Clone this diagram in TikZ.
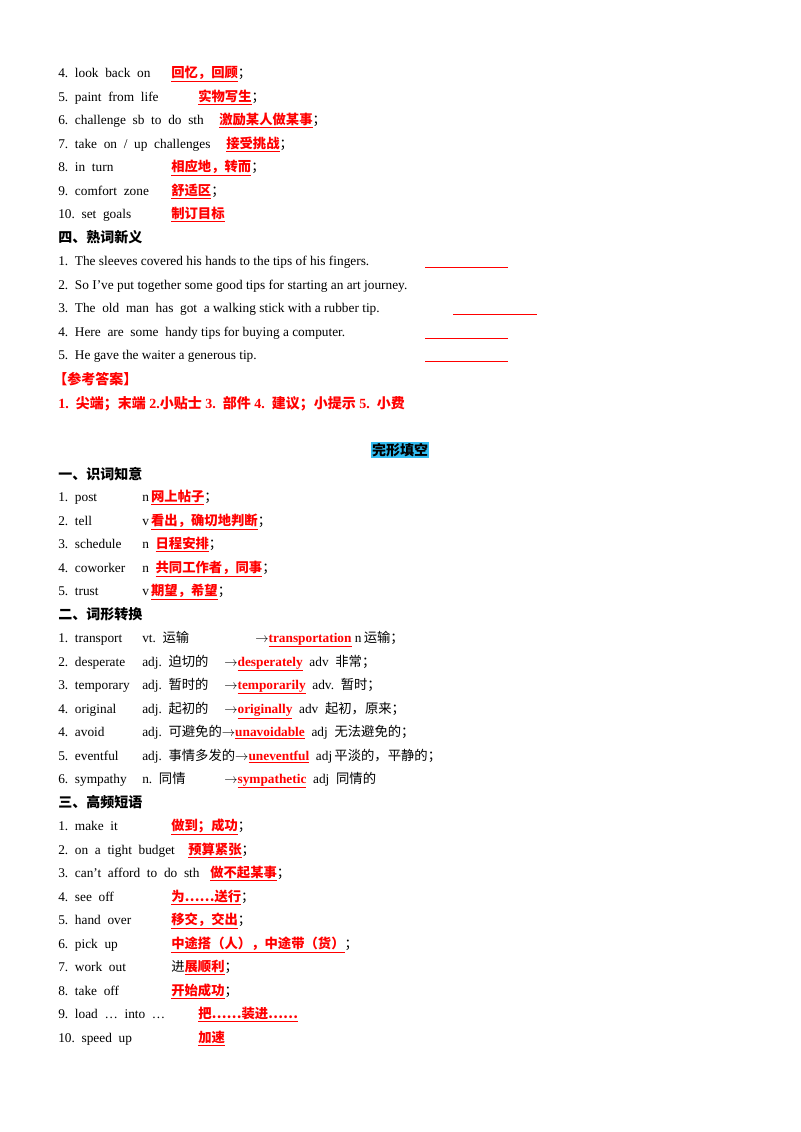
\documentclass[tikz,border=0pt]{standalone}
\usepackage{fontspec}
\setmainfont{Liberation Serif}
\newfontfamily\cjk{Noto Sans CJK SC}
\newcommand{\C}[1]{{\cjk #1}}
\newcommand{\A}[1]{\textcolor{red}{\bfseries\underline{#1}}}
\newcommand{\AC}[1]{\textcolor{red}{\bfseries\underline{\cjk #1}}}
\begin{document}
\begin{tikzpicture}[x=0.75pt,y=-0.75pt,font=\fontsize{10}{12}\selectfont,
  t/.style={anchor=base west,inner sep=0pt},
  h/.style={anchor=base west,inner sep=0pt,font=\fontsize{10.5}{12}\selectfont\bfseries\cjk},
  bl/.style={line width=0.6pt,red}]
\useasboundingbox (0,0) rectangle (800,1132);
% part 1
\node[t] (a4) at (58,77) {4.\ \ look\ \ back\ \ on};
\node[t] (b4) at (171,77) {\AC{回忆，回顾}\C{；}};
\node[t] (a5) at (58,101) {5.\ \ paint\ \ from\ \ life};
\node[t] (b5) at (198,101) {\AC{实物写生}\C{；}};
\node[t] (a6) at (58,124) {6.\ \ challenge\ \ sb\ \ to\ \ do\ \ sth};
\node[t] (b6) at (219,124) {\AC{激励某人做某事}\C{；}};
\node[t] (a7) at (58,148) {7.\ \ take\ \ on\ \ /\ \ up\ \ challenges};
\node[t] (b7) at (226,148) {\AC{接受挑战}\C{；}};
\node[t] (a8) at (58,171) {8.\ \ in\ \ turn};
\node[t] (b8) at (171,171) {\AC{相应地，转而}\C{；}};
\node[t] (a9) at (58,195) {9.\ \ comfort\ \ zone};
\node[t] (b9) at (171,195) {\AC{舒适区}\C{；}};
\node[t] (a10) at (58,218) {10.\ \ set\ \ goals};
\node[t] (b10) at (171,218) {\AC{制订目标}};
\node[h] (h4) at (58,242) {四、熟词新义};
\node[t] (s1) at (58,265) {1.\ \ The sleeves covered his hands to the tips of his fingers.};
\node[t] (s2) at (58,289) {2.\ \ So I’ve put together some good tips for starting an art journey.};
\node[t] (s3) at (58,312) {3.\ \ The\ \ old\ \ man\ \ has\ \ got\ \ a walking stick with a rubber tip.};
\node[t] (s4) at (58,336) {4.\ \ Here\ \ are\ \ some\ \ handy tips for buying a computer.};
\node[t] (s5) at (58,359) {5.\ \ He gave the waiter a generous tip.};
\draw[bl] (425,267) -- (508,267);
\draw[bl] (453,314) -- (537,314);
\draw[bl] (425,338) -- (508,338);
\draw[bl] (425,361) -- (508,361);
\node[h,text=red] (ck) at (53,384) {【参考答案】};
\node[t,text=red,font=\fontsize{10.5}{12}\selectfont\bfseries] (ans) at (58,408) {1.\ \ \C{尖端；末端} 2.\C{小贴士} 3.\ \ \C{部件} 4.\ \ \C{建议；小提示} 5.\ \ \C{小费}};
% part 2
\node[anchor=base,inner sep=1pt,fill=cyan!80!white,font=\fontsize{10.5}{12}\selectfont\bfseries\cjk] (title) at (400,455) {完形填空};
\node[h] (h1) at (58,479) {一、识词知意};
\node[t] at (58,501) {1.\ \ post};
\node[t] at (142,501) {n\,\AC{网上帖子}\C{；}};
\node[t] at (58,525) {2.\ \ tell};
\node[t] at (142,525) {v\,\AC{看出，确切地判断}\C{；}};
\node[t] at (58,548) {3.\ \ schedule};
\node[t] at (142,548) {n\ \ \AC{日程安排}\C{；}};
\node[t] at (58,572) {4.\ \ coworker};
\node[t] at (142,572) {n\ \ \AC{共同工作者，同事}\C{；}};
\node[t] at (58,595) {5.\ \ trust};
\node[t] at (142,595) {v\,\AC{期望，希望}\C{；}};
\node[h] (h2) at (58,619) {二、词形转换};
\node[t] at (58,642) {1.\ \ transport};
\node[t] at (142,642) {vt.\ \ \C{运输}};
\node[t] at (255,642) {$\rightarrow$\A{transportation}\ n\,\C{运输；}};
\node[t] at (58,666) {2.\ \ desperate};
\node[t] at (142,666) {adj.\ \ \C{迫切的}};
\node[t] at (224,666) {$\rightarrow$\A{desperately}\ \ adv\ \ \C{非常；}};
\node[t] at (58,689) {3.\ \ temporary};
\node[t] at (142,689) {adj.\ \ \C{暂时的}};
\node[t] at (224,689) {$\rightarrow$\A{temporarily}\ \ adv.\ \ \C{暂时；}};
\node[t] at (58,713) {4.\ \ original};
\node[t] at (142,713) {adj.\ \ \C{起初的}};
\node[t] at (224,713) {$\rightarrow$\A{originally}\ \ adv\ \ \C{起初，原来；}};
\node[t] at (58,736) {4.\ \ avoid};
\node[t] at (142,736) {adj.\ \ \C{可避免的}$\rightarrow$\A{unavoidable}\ \ adj\ \ \C{无法避免的；}};
\node[t] at (58,760) {5.\ \ eventful};
\node[t] at (142,760) {adj.\ \ \C{事情多发的}$\rightarrow$\A{uneventful}\ \ adj\,\C{平淡的，平静的；}};
\node[t] at (58,783) {6.\ \ sympathy};
\node[t] at (142,783) {n.\ \ \C{同情}};
\node[t] at (224,783) {$\rightarrow$\A{sympathetic}\ \ adj\ \ \C{同情的}};
\node[h] (h3) at (58,807) {三、高频短语};
\node[t] at (58,830) {1.\ \ make\ \ it};
\node[t] at (171,830) {\AC{做到；成功}\C{；}};
\node[t] at (58,854) {2.\ \ on\ \ a\ \ tight\ \ budget};
\node[t] at (188,854) {\AC{预算紧张}\C{；}};
\node[t] at (58,877) {3.\ \ can’t\ \ afford\ \ to\ \ do\ \ sth};
\node[t] at (210,877) {\AC{做不起某事}\C{；}};
\node[t] at (58,901) {4.\ \ see\ \ off};
\node[t] at (171,901) {\AC{为……送行}\C{；}};
\node[t] at (58,924) {5.\ \ hand\ \ over};
\node[t] at (171,924) {\AC{移交，交出}\C{；}};
\node[t] at (58,948) {6.\ \ pick\ \ up};
\node[t] at (171,948) {\AC{中途搭（人），中途带（货）}\C{；}};
\node[t] at (58,971) {7.\ \ work\ \ out};
\node[t] at (171,971) {\C{进}\AC{展顺利}\C{；}};
\node[t] at (58,995) {8.\ \ take\ \ off};
\node[t] at (171,995) {\AC{开始成功}\C{；}};
\node[t] at (58,1018) {9.\ \ load\ \ …\ \ into\ \ …};
\node[t] at (198,1018) {\AC{把……装进……}};
\node[t] at (58,1042) {10.\ \ speed\ \ up};
\node[t] at (198,1042) {\AC{加速}};
\end{tikzpicture}
\end{document}
